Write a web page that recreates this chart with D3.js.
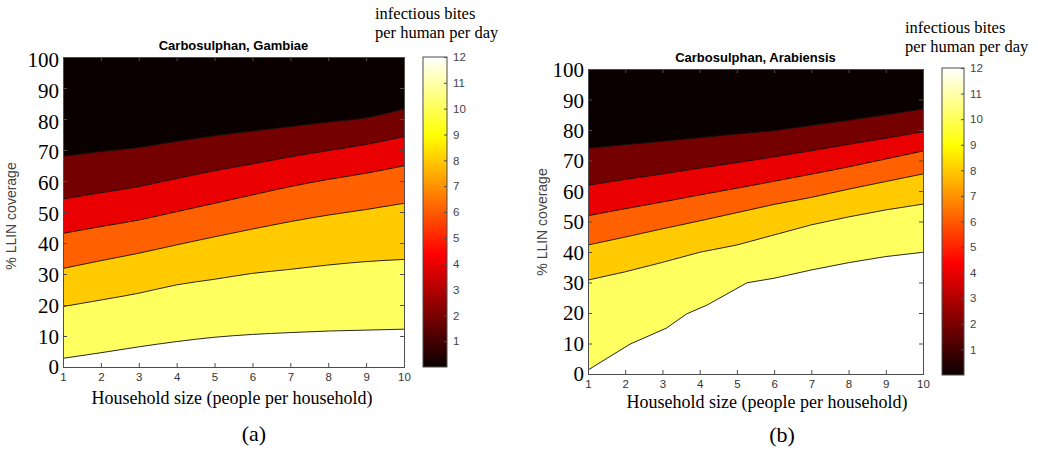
<!DOCTYPE html>
<html>
<head>
<meta charset="utf-8">
<script src="https://cdn.jsdelivr.net/npm/d3@7/dist/d3.min.js"></script>
<style>
	body { margin: 0; background: white; }
	svg { display: block; }
</style>
</head>
<body>
<svg></svg>
<script>
'use strict';

// household size grid (x) and contour levels (infectious bites per human per day)
const householdSize = [1, 2, 3, 4, 5, 6, 7, 8, 9, 10];
const contourLevels = [2, 4, 6, 8, 10, 12];
const coverageTicks = [0, 10, 20, 30, 40, 50, 60, 70, 80, 90, 100];
const householdTicks = [1, 2, 3, 4, 5, 6, 7, 8, 9, 10];
const biteTicks = [1, 2, 3, 4, 5, 6, 7, 8, 9, 10, 11, 12];

// Gambiae: % LLIN coverage where each contour level is reached
const gambiae2 = [68, 69.5, 70.8, 72.8, 74.6, 76.1, 77.6, 79, 80.4, 83.3];
const gambiae4 = [54.2, 56.2, 58.2, 60.8, 63.3, 65.5, 67.8, 69.8, 71.8, 74.3];
const gambiae6 = [43.1, 45.3, 47.4, 50.1, 52.8, 55.5, 58.2, 60.5, 62.5, 64.9];
const gambiae8 = [31.8, 34.3, 36.7, 39.4, 42.0, 44.5, 46.9, 49.0, 50.8, 52.8];
const gambiae10 = [19.5, 21.6, 23.8, 26.5, 28.3, 30.2, 31.5, 32.9, 34.0, 34.7];
const gambiae12 = [2.8, 4.6, 6.5, 8.2, 9.6, 10.5, 11.1, 11.6, 11.9, 12.2];

// Arabiensis
const arabiensis2 = [74, 75.2, 76.3, 77.5, 78.7, 79.8, 81.5, 83.2, 85.0, 86.9];
const arabiensis4 = [61.9, 63.8, 65.6, 67.5, 69.3, 71.2, 73.2, 75.3, 77.3, 79.4];
const arabiensis6 = [51.9, 54.2, 56.4, 58.7, 60.9, 63.2, 65.5, 67.9, 70.5, 73.1];
const arabiensis8 = [42.3, 44.9, 47.6, 50.2, 52.9, 55.6, 57.9, 60.6, 63.1, 65.6];
const arabiensis10 = [30.8, 33.5, 36.6, 39.9, 42.3, 45.6, 48.9, 51.5, 53.8, 55.7];
const arabiensisX12 = [1, 2.13, 3.1, 3.65, 4.2, 5.27, 6, 7, 8, 9, 10];
const arabiensis12 = [1.3, 9.8, 15.0, 19.7, 22.6, 29.9, 31.4, 34.1, 36.5, 38.5, 39.9];

const W = 1038, H = 452;
const serif = '"Liberation Serif", "Times New Roman", serif';
const sans = '"Liberation Sans", Arial, sans-serif';

const svg = d3.select('svg')
	.attr('width', W)
	.attr('height', H);

// MATLAB hot(64) colour for a value between 0 and 12
const hot = (v) => {
	let idx = Math.min(64, Math.floor(v / 12 * 64) + 1);
	let r = Math.min(1, idx / 24);
	let g = Math.max(0, Math.min(1, (idx - 24) / 24));
	let b = Math.max(0, Math.min(1, (idx - 48) / 16));
	return d3.rgb(r * 255, g * 255, b * 255).formatHex();
};

// colorbar gradient, shared by both panels
const grad = svg.append('defs').append('linearGradient')
	.attr('id', 'hotGrad')
	.attr('x1', 0).attr('y1', 1).attr('x2', 0).attr('y2', 0);
d3.range(64).forEach((i) => {
	grad.append('stop').attr('offset', i / 63).attr('stop-color', hot(i / 63 * 11.99));
});

const panels = [
	{
		title: 'Carbosulphan, Gambiae', tag: '(a)',
		lines: [
			{ x: householdSize, y: gambiae2 }, { x: householdSize, y: gambiae4 },
			{ x: householdSize, y: gambiae6 }, { x: householdSize, y: gambiae8 },
			{ x: householdSize, y: gambiae10 }, { x: householdSize, y: gambiae12 }
		],
		curve: d3.curveMonotoneX,
		left: 63, top: 57, width: 341, height: 310, titleY: 50,
		cbX: 423, cbW: 24, cbTop: 57, cbH: 310, cbTitleX: 375, cbTitleY: 19,
		ylabelX: 16, ylabelY: 216, xlabelX: 232, xlabelY: 404, tagX: 254, tagY: 441,
		yLabelShift: 3
	},
	{
		title: 'Carbosulphan, Arabiensis', tag: '(b)',
		lines: [
			{ x: householdSize, y: arabiensis2 }, { x: householdSize, y: arabiensis4 },
			{ x: householdSize, y: arabiensis6 }, { x: householdSize, y: arabiensis8 },
			{ x: householdSize, y: arabiensis10 }, { x: arabiensisX12, y: arabiensis12 }
		],
		curve: d3.curveLinear,
		left: 588, top: 69, width: 335, height: 305, titleY: 62,
		cbX: 942, cbW: 22, cbTop: 68, cbH: 307, cbTitleX: 905, cbTitleY: 33,
		ylabelX: 547, ylabelY: 222, xlabelX: 767, xlabelY: 408, tagX: 782, tagY: 442,
		yLabelShift: 1
	}
];

const drawPanel = (p) => {
	const x = d3.scaleLinear().domain([1, 10]).range([p.left, p.left + p.width]);
	const y = d3.scaleLinear().domain([0, 100]).range([p.top + p.height, p.top]);

	const grp = svg.append('g');

	// black band first, then every level fills everything below its line
	grp.append('rect')
		.attr('x', x(1)).attr('y', y(100))
		.attr('width', x(10) - x(1)).attr('height', y(0) - y(100))
		.attr('fill', hot(0));

	const area = d3.area()
		.x((d) => x(d[0]))
		.y0(y(0))
		.y1((d) => y(d[1]))
		.curve(p.curve);
	const line = d3.line()
		.x((d) => x(d[0]))
		.y((d) => y(d[1]))
		.curve(p.curve);

	const pts = p.lines.map((l) => l.x.map((v, i) => [v, l.y[i]]));

	pts.forEach((pp, i) => {
		grp.append('path')
			.attr('d', area(pp))
			.attr('fill', hot(contourLevels[i]));
	});
	pts.forEach((pp) => {
		grp.append('path')
			.attr('d', line(pp))
			.attr('fill', 'none')
			.attr('stroke', '#111')
			.attr('stroke-width', 0.9);
	});

	// axes box with inward ticks
	const axColor = '#4d4d4d';
	const bottom = grp.append('g')
		.attr('transform', `translate(0,${y(0)})`)
		.call(d3.axisBottom(x).tickValues(householdTicks).tickSize(-4).tickPadding(6).tickFormat(d3.format('d')));
	bottom.selectAll('text').attr('font-family', sans).attr('font-size', 11.5).attr('fill', '#333');

	grp.append('g')
		.attr('transform', `translate(0,${y(100)})`)
		.call(d3.axisTop(x).tickValues(householdTicks).tickSize(-4).tickFormat(''));

	const left = grp.append('g')
		.attr('transform', `translate(${x(1)},0)`)
		.call(d3.axisLeft(y).tickValues(coverageTicks).tickSize(-4).tickPadding(4));
	left.selectAll('text')
		.attr('font-family', serif).attr('font-size', 21).attr('fill', '#000')
		.attr('dy', (d) => `${0.32 + p.yLabelShift * d / 100 / 21}em`);

	grp.append('g')
		.attr('transform', `translate(${x(10)},0)`)
		.call(d3.axisRight(y).tickValues(coverageTicks).tickSize(-4).tickFormat(''));

	grp.selectAll('.domain').attr('stroke', axColor);
	grp.selectAll('.tick line').attr('stroke', axColor);

	// titles and labels
	svg.append('text')
		.attr('x', (x(1) + x(10)) / 2).attr('y', p.titleY)
		.attr('text-anchor', 'middle')
		.attr('font-family', sans).attr('font-weight', 'bold').attr('font-size', 13)
		.text(p.title);

	svg.append('text')
		.attr('transform', `translate(${p.ylabelX},${p.ylabelY}) rotate(-90)`)
		.attr('text-anchor', 'middle')
		.attr('font-family', sans).attr('font-size', 14).attr('fill', '#444')
		.text('% LLIN coverage');

	svg.append('text')
		.attr('x', p.xlabelX).attr('y', p.xlabelY)
		.attr('text-anchor', 'middle')
		.attr('font-family', serif).attr('font-size', 18)
		.text('Household size (people per household)');

	svg.append('text')
		.attr('x', p.tagX).attr('y', p.tagY)
		.attr('text-anchor', 'middle')
		.attr('font-family', serif).attr('font-size', 22)
		.text(p.tag);

	// colorbar
	const c = d3.scaleLinear().domain([0, 12]).range([p.cbTop + p.cbH, p.cbTop]);
	svg.append('rect')
		.attr('x', p.cbX).attr('y', p.cbTop)
		.attr('width', p.cbW).attr('height', p.cbH)
		.attr('fill', 'url(#hotGrad)')
		.attr('stroke', axColor).attr('stroke-width', 1);
	const cb = svg.append('g')
		.attr('transform', `translate(${p.cbX + p.cbW},0)`)
		.call(d3.axisRight(c).tickValues(biteTicks).tickSize(-3).tickPadding(6));
	cb.select('.domain').remove();
	cb.selectAll('.tick line').attr('stroke', axColor);
	cb.selectAll('text').attr('font-family', sans).attr('font-size', 11.5).attr('fill', '#444');

	svg.append('text')
		.attr('x', p.cbTitleX).attr('y', p.cbTitleY)
		.attr('font-family', serif).attr('font-size', 16.5)
		.text('infectious bites');
	svg.append('text')
		.attr('x', p.cbTitleX).attr('y', p.cbTitleY + 18.5)
		.attr('font-family', serif).attr('font-size', 16.5)
		.text('per human per day');
};

panels.forEach(drawPanel);
</script>
</body>
</html>
